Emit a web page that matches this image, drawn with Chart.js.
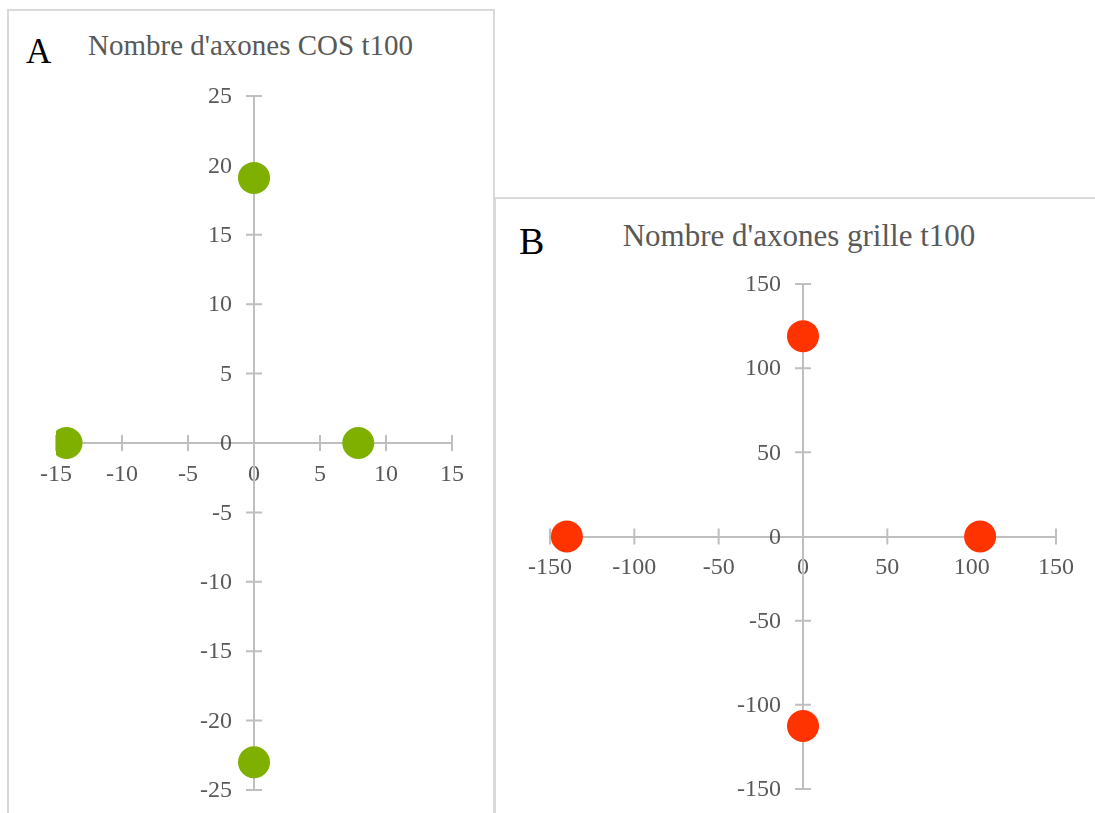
<!DOCTYPE html>
<html>
<head>
<meta charset="utf-8">
<script src="https://cdn.jsdelivr.net/npm/chart.js@4/dist/chart.umd.min.js"></script>
<style>
  html, body { margin: 0; padding: 0; background: #fff; overflow: hidden; }
  body { width: 1095px; height: 813px; position: relative; }
  .frame { position: absolute; border: 2px solid #d9d9d9; box-sizing: border-box; background: #fff; }
  .txt { position: absolute; font-family: "Liberation Serif", serif; line-height: 1; white-space: nowrap; }
  .letter { color: #000; }
  .title { color: #595959; text-align: center; }
  canvas { position: absolute; }
</style>
</head>
<body>
<div class="frame" style="left:7px; top:9px; width:488px; height:900px;"></div>
<div class="frame" style="left:494px; top:197px; width:700px; height:900px;"></div>

<div class="txt letter" style="left:26px; top:34px; font-size:35px;">A</div>
<div class="txt title" style="left:0px; top:31px; width:501px; font-size:29px;">Nombre d'axones COS t100</div>

<div class="txt letter" style="left:519px; top:222px; font-size:38px;">B</div>
<div class="txt title" style="left:549px; top:220px; width:500px; font-size:31px;">Nombre d'axones grille t100</div>

<canvas id="chartA" style="left:0px; top:0px;"></canvas>
<canvas id="chartB" style="left:496px; top:199px;"></canvas>

<script>
// panel A : COS t100
const cosX = [0, 0, -14.2, 7.9];
const cosY = [19.1, -23, 0, 0];
const cosRange = { xMin: -15, xMax: 15, xStep: 5, yMin: -25, yMax: 25, yStep: 5 };

// panel B : grille t100
const grilleX = [0, 0, -140, 105];
const grilleY = [119, -112.6, 0, 0];
const grilleRange = { xMin: -150, xMax: 150, xStep: 50, yMin: -150, yMax: 150, yStep: 50 };

const AXIS_COLOR = '#bfbfbf';
const LABEL_COLOR = '#595959';
const FONT = { family: 'Liberation Serif', size: 24 };

// tick marks crossing the axis line + y labels left of the centred axis
// (chart.js ignores ticks.padding for a y axis placed at x = 0)
const crossTicks = {
  id: 'crossTicks',
  beforeDatasetsDraw(chart) {
    const { ctx, scales: { x, y } } = chart;
    const x0 = x.getPixelForValue(0);
    const y0 = y.getPixelForValue(0);
    ctx.save();
    ctx.strokeStyle = AXIS_COLOR;
    ctx.lineWidth = 2;
    ctx.beginPath();
    x.ticks.forEach(t => {
      if (t.value === 0) return;
      const px = x.getPixelForValue(t.value);
      ctx.moveTo(px, y0 - 8);
      ctx.lineTo(px, y0 + 8);
    });
    y.ticks.forEach(t => {
      if (t.value === 0) return;
      const py = y.getPixelForValue(t.value);
      ctx.moveTo(x0 - 8, py);
      ctx.lineTo(x0 + 8, py);
    });
    ctx.stroke();

    ctx.fillStyle = LABEL_COLOR;
    ctx.font = FONT.size + 'px "' + FONT.family + '"';
    ctx.textAlign = 'right';
    ctx.textBaseline = 'middle';
    y.ticks.forEach(t => {
      ctx.fillText(String(t.value), x0 - 22, y.getPixelForValue(t.value) + 1);
    });
    ctx.restore();
  }
};

function makeChart(id, w, h, xs, ys, range, color, padding) {
  const canvas = document.getElementById(id);
  canvas.width = w;
  canvas.height = h;
  canvas.style.width = w + 'px';
  canvas.style.height = h + 'px';
  const points = xs.map((v, i) => ({ x: v, y: ys[i] }));
  const axis = (min, max, step) => ({
    type: 'linear',
    min: min,
    max: max,
    grid: { display: false },
    border: { display: true, color: AXIS_COLOR, width: 2 },
    ticks: { stepSize: step, color: LABEL_COLOR, font: FONT, padding: 9, maxRotation: 0, autoSkip: false }
  });
  const yAxis = axis(range.yMin, range.yMax, range.yStep);
  yAxis.ticks.display = false;
  yAxis.position = { x: 0 };
  const xAxis = axis(range.xMin, range.xMax, range.xStep);
  xAxis.position = { y: 0 };
  return new Chart(canvas, {
    type: 'scatter',
    data: {
      datasets: [{
        data: points,
        backgroundColor: color,
        borderWidth: 0,
        pointRadius: 16,
        pointHoverRadius: 16
      }]
    },
    options: {
      responsive: false,
      animation: false,
      layout: { padding: padding },
      plugins: { legend: { display: false }, tooltip: { enabled: false }, title: { display: false } },
      scales: { x: xAxis, y: yAxis }
    },
    plugins: [crossTicks]
  });
}

makeChart('chartA', 494, 813, cosX, cosY, cosRange, '#7fb000',
  { left: 56, right: 42, top: 96, bottom: 23 });
makeChart('chartB', 599, 614, grilleX, grilleY, grilleRange, '#ff3300',
  { left: 54, right: 39, top: 85, bottom: 24 });
</script>
</body>
</html>
